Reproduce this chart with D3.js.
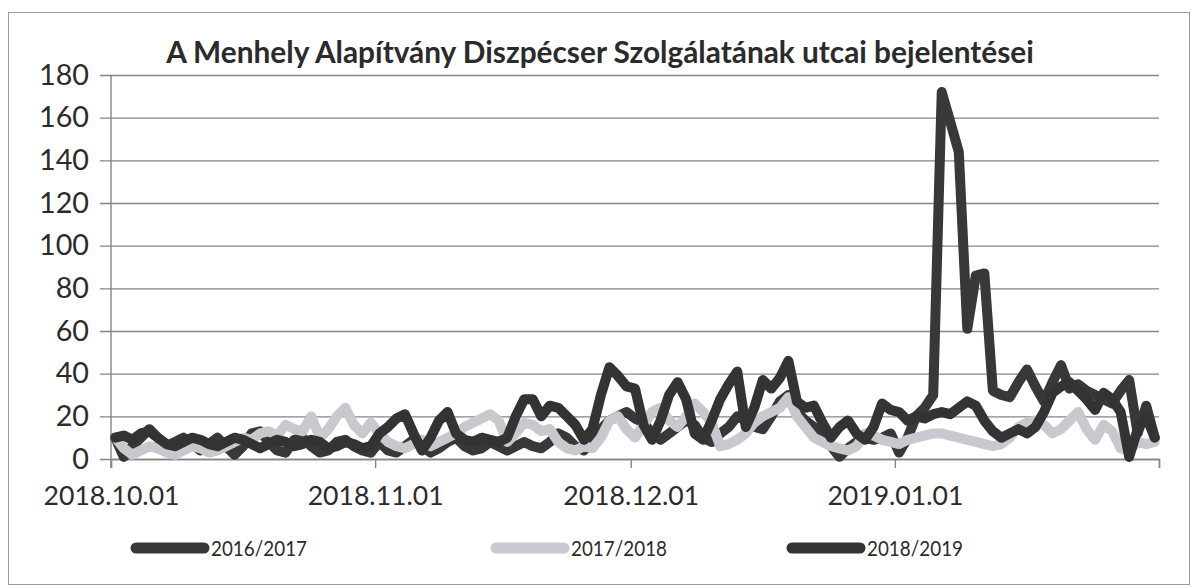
<!DOCTYPE html>
<html><head><meta charset="utf-8">
<script src="https://cdn.jsdelivr.net/npm/d3@7"></script>
<style>
html,body{margin:0;padding:0;background:#fff;}
svg{display:block;}
text{font-family:Lato,"Open Sans",sans-serif;fill:#2b2b2b;}
</style></head>
<body>
<svg id="chart" width="1193" height="588"></svg>
<script>
// ---------- DATA ----------
const title = "A Menhely Alapítvány Diszpécser Szolgálatának utcai bejelentései";
const startDate = "2018-10-01";       // first day of the series (daily values)
const seriesNames = ["2016/2017", "2017/2018", "2018/2019"];
const yTicks = [0, 20, 40, 60, 80, 100, 120, 140, 160, 180];
const xTickDates = ["2018-10-01", "2018-11-01", "2018-12-01", "2019-01-01", "2019-02-01"];
const xTickLabels = ["2018.10.01", "2018.11.01", "2018.12.01", "2019.01.01", ""];

// 2016/2017 (dark, with the January cold-spell spike)
const s2016 = [
  10,1,6,10,14,10,6,8,10,7,4,7,10,6,2,6,12,13,8,4,3,9,10,6,3,4,8,9,6,4,3,
  8,4,3,6,9,6,3,5,8,10,6,4,5,8,6,4,6,8,6,5,8,12,10,6,4,8,14,18,20,22,
  19,17,12,9,12,15,18,16,10,8,12,15,20,18,15,14,20,27,30,22,18,15,10,6,1,5,8,10,9,10,12,
  3,10,20,24,30,172,158,144,61,86,87,32,30,29,36,42,34,27,36,44,33,35,32,30,28,26,32,37,12,25,10
];
// 2017/2018 (light grey)
const s2017 = [
  10,5,2,4,6,5,3,2,4,6,5,3,4,6,8,10,9,12,13,11,16,14,13,20,10,14,20,24,16,12,17,
  12,8,6,5,7,9,6,8,10,12,15,17,19,21,18,8,12,17,16,13,14,8,5,4,6,5,10,18,20,14,
  10,16,22,24,18,15,20,26,22,17,6,7,9,12,17,20,22,24,29,20,15,10,8,6,5,4,6,12,11,9,8,
  7,9,10,11,12,12,11,10,9,8,7,6,7,10,15,17,18,16,12,14,18,22,14,9,16,13,5,4,8,7,8
];
// 2018/2019 (dark)
const s2018 = [
  10,11,9,12,13,10,7,6,8,10,9,7,6,8,10,9,7,5,7,9,8,6,7,9,8,5,6,8,7,5,6,
  12,15,19,21,12,4,10,18,22,12,9,8,10,9,8,10,20,28,28,20,25,24,20,16,9,14,30,43,39,34,
  33,16,9,18,30,36,28,12,9,18,28,35,41,15,24,37,33,38,46,27,24,25,17,10,15,18,12,9,15,26,23,
  22,18,20,19,21,22,21,24,27,25,18,13,10,12,14,12,15,22,31,34,36,32,28,23,31,28,22,1,14,20,10
];
const seriesValues = [s2016, s2017, s2018];
const seriesColors = ["#383838", "#c8c9ce", "#333333"];

// ---------- CHART ----------
const svg = d3.select("#chart");
const W = 1193, H = 588;
const plot = {left: 111, right: 1159, top: 75, bottom: 459};

function fit(sel, base, target) {
  const w = sel.node().getComputedTextLength();
  sel.style("font-size", (base * target / w).toFixed(2) + "px");
}

svg.append("rect").attr("x", 0).attr("y", 0).attr("width", W).attr("height", H).attr("fill", "#fff");
svg.append("rect").attr("x", 8.5).attr("y", 12.5).attr("width", 1181).attr("height", 572)
  .attr("fill", "none").attr("stroke", "#9a9a9a").attr("stroke-width", 1);

const parse = d3.timeParse("%Y-%m-%d");
const t0 = parse(startDate);
const x = d3.scaleTime()
  .domain([parse(xTickDates[0]), parse(xTickDates[xTickDates.length - 1])])
  .range([plot.left, plot.right]);
const y = d3.scaleLinear().domain([0, 180]).range([plot.bottom, plot.top]);

// each daily value sits in the middle of its day slot
const dayDates = d3.range(s2016.length).map(i => d3.timeHour.offset(d3.timeDay.offset(t0, i), 12));

// gridlines + y axis
const yAxis = d3.axisLeft(y).tickValues(yTicks).tickSize(-(plot.right - plot.left)).tickPadding(12);
const gy = svg.append("g").attr("transform", `translate(${plot.left},0)`).call(yAxis);
gy.select(".domain").remove();
gy.selectAll(".tick line").attr("stroke", "#858585").attr("stroke-width", 1.4).attr("x1", -11);
gy.selectAll(".tick text").attr("x", -22).style("font-size", "28px").attr("fill", "#262626");
fit(gy.selectAll(".tick text").filter(d => d === 180), 28, 50);
const ySize = gy.selectAll(".tick text").filter(d => d === 180).style("font-size");
gy.selectAll(".tick text").style("font-size", ySize);
svg.append("line").attr("x1", plot.left).attr("x2", plot.left).attr("y1", plot.top).attr("y2", plot.bottom + 9)
  .attr("stroke", "#858585").attr("stroke-width", 1.4);

// x axis
const xAxis = d3.axisBottom(x).tickValues(xTickDates.map(parse)).tickSize(9)
  .tickFormat((d, i) => xTickLabels[i]).tickPadding(18);
const gx = svg.append("g").attr("transform", `translate(0,${plot.bottom})`).call(xAxis);
gx.select(".domain").attr("stroke", "#858585").attr("stroke-width", 1.4);
gx.selectAll(".tick line").attr("stroke", "#858585").attr("stroke-width", 1.4);
gx.selectAll(".tick text").style("font-size", "28px").attr("fill", "#262626");
const xl = gx.selectAll(".tick text").filter((d, i) => i === 1);
fit(xl, 28, 136);
gx.selectAll(".tick text").style("font-size", xl.style("font-size"));

// lines
const line = d3.line().x((d, i) => x(dayDates[i])).y(d => y(d)).curve(d3.curveLinear);
seriesValues.forEach((vals, k) => {
  svg.append("path").datum(vals)
    .attr("d", line)
    .attr("fill", "none")
    .attr("stroke", seriesColors[k])
    .attr("stroke-width", 10)
    .attr("stroke-linejoin", "round")
    .attr("stroke-linecap", "round");
});

// title
const tt = svg.append("text").text(title)
  .attr("x", 600).attr("y", 63).attr("text-anchor", "middle")
  .style("font-weight", "bold").style("font-size", "25px").attr("fill", "#2a2a2a");
fit(tt, 25, 868);

// legend
const legendX = [130, 490, 786];
const lg = svg.append("g");
seriesNames.forEach((n, k) => {
  lg.append("line").attr("x1", legendX[k] + 6).attr("x2", legendX[k] + 74)
    .attr("y1", 548).attr("y2", 548)
    .attr("stroke", seriesColors[k]).attr("stroke-width", 11).attr("stroke-linecap", "round");
  lg.append("text").text(n).attr("x", legendX[k] + 81).attr("y", 556)
    .style("font-size", "21px").attr("fill", "#262626")
    .attr("textLength", 96).attr("lengthAdjust", "spacingAndGlyphs");
});
</script>
</body></html>
